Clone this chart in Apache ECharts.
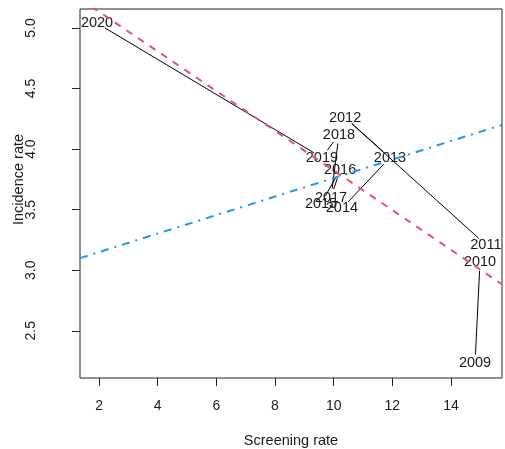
<!DOCTYPE html>
<html>
<head>
<meta charset="utf-8">
<script src="https://cdn.jsdelivr.net/npm/echarts@6/dist/echarts.min.js"></script>
<style>
html, body { margin: 0; padding: 0; background: #fff; }
#main { width: 505px; height: 449px; }
</style>
</head>
<body>
<div id="main"></div>
<script>
// data
var years = [2009, 2010, 2011, 2012, 2013, 2014, 2015, 2016, 2017, 2018, 2019, 2020];
var screening = [14.82, 14.99, 15.19, 10.39, 11.92, 10.28, 9.57, 10.22, 9.91, 10.18, 9.60, 1.93];
var incidence = [2.23, 3.07, 3.21, 4.26, 3.93, 3.51, 3.55, 3.83, 3.60, 4.12, 3.93, 5.04];

var xTicks = [2, 4, 6, 8, 10, 12, 14];
var yTicks = [2.5, 3.0, 3.5, 4.0, 4.5, 5.0];

// fitted lines, [intercept, slope]
var fitRed = [5.462, -0.1638];
var fitBlue = [2.997, 0.0764];

var xRange = [1.35, 15.74];
var yRange = [2.11, 5.157];

var font = '"Liberation Sans", Arial, sans-serif';
var ink = '#1a1a1a';

function fitLine(c) {
  return [[xRange[0], c[0] + c[1] * xRange[0]], [xRange[1], c[0] + c[1] * xRange[1]]];
}

var segs = [];
for (var i = 0; i < years.length - 1; i++) {
  segs.push([screening[i], incidence[i], screening[i + 1], incidence[i + 1]]);
}
var pts = years.map(function (y, i) { return [screening[i], incidence[i], y]; });

var gap = 9; // type="c" style gap round each point

var myChart = echarts.init(document.getElementById('main'));

var option = {
  animation: false,
  backgroundColor: '#fff',
  grid: {
    left: 80, right: 3, top: 9, bottom: 71,
    outerBoundsMode: 'none',
    containLabel: false,
    show: true, borderColor: '#222', borderWidth: 1
  },
  xAxis: {
    type: 'value',
    min: xRange[0], max: xRange[1],
    name: 'Screening rate',
    nameLocation: 'middle',
    nameMoveOverlap: false,
    nameGap: 63,
    nameTextStyle: { fontFamily: font, fontSize: 14.5, color: ink, align: 'center', verticalAlign: 'middle' },
    axisLine: { show: false },
    splitLine: { show: false },
    axisTick: { show: true, inside: false, length: 8, customValues: xTicks, lineStyle: { color: '#222' } },
    axisLabel: { customValues: xTicks, margin: 21, fontFamily: font, fontSize: 14, color: ink }
  },
  yAxis: {
    type: 'value',
    min: yRange[0], max: yRange[1],
    name: 'Incidence rate',
    nameLocation: 'middle',
    nameMoveOverlap: false,
    nameRotate: 90,
    nameGap: 61,
    nameTextStyle: { fontFamily: font, fontSize: 14.5, color: ink, align: 'center', verticalAlign: 'middle', padding: [0, 0, 0, 28] },
    axisLine: { show: false },
    splitLine: { show: false },
    axisTick: { show: true, inside: false, length: 8, customValues: yTicks, lineStyle: { color: '#222' } },
    axisLabel: {
      customValues: yTicks, rotate: 90, margin: 49,
      align: 'center', verticalAlign: 'middle',
      fontFamily: font, fontSize: 14, color: ink,
      formatter: function (v) { return v.toFixed(1); }
    }
  },
  series: [
    {
      type: 'custom',
      data: segs,
      clip: true,
      renderItem: function (params, api) {
        var p0 = api.coord([api.value(0), api.value(1)]);
        var p1 = api.coord([api.value(2), api.value(3)]);
        var dx = p1[0] - p0[0], dy = p1[1] - p0[1];
        var len = Math.sqrt(dx * dx + dy * dy);
        if (len <= 2 * gap) return null;
        var ux = dx / len, uy = dy / len;
        return {
          type: 'line',
          shape: { x1: p0[0] + ux * gap, y1: p0[1] + uy * gap, x2: p1[0] - ux * gap, y2: p1[1] - uy * gap },
          style: { stroke: '#000', lineWidth: 1 }
        };
      },
      z: 2
    },
    {
      type: 'custom',
      data: pts,
      renderItem: function (params, api) {
        var p = api.coord([api.value(0), api.value(1)]);
        return {
          type: 'text',
          x: p[0], y: p[1],
          style: {
            text: String(api.value(2)),
            font: '14.5px ' + font,
            fill: ink,
            align: 'center',
            verticalAlign: 'middle'
          }
        };
      },
      z: 3
    },
    {
      type: 'line',
      data: fitLine(fitRed),
      symbol: 'none',
      clip: true,
      lineStyle: { color: '#DF536B', width: 2, type: [7, 7], cap: 'butt' },
      z: 4
    },
    {
      type: 'line',
      data: fitLine(fitBlue),
      symbol: 'none',
      clip: true,
      lineStyle: { color: '#2297E6', width: 2, type: [8, 6, 2, 6], cap: 'butt' },
      z: 4
    }
  ]
};

myChart.setOption(option);
</script>
</body>
</html>
